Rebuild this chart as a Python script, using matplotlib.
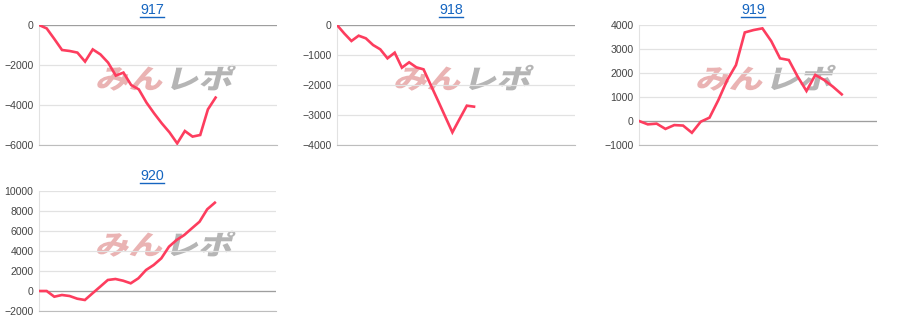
import matplotlib
matplotlib.use("Agg")
import matplotlib.pyplot as plt
from matplotlib.textpath import TextPath
from matplotlib.patches import PathPatch
from matplotlib.font_manager import FontProperties
from matplotlib.transforms import Affine2D
import numpy as np

# machine numbers and their running totals
titles = ["917", "918", "919", "920"]

p917 = [0, -170, -700, -1250, -1300, -1380, -1830, -1220, -1470, -1880, -2530, -2380,
        -3000, -3220, -3880, -4420, -4920, -5370, -5920, -5300, -5580, -5500, -4220, -3630]
p918 = [0, -280, -533, -356, -444, -667, -811, -1111, -922, -1422, -1244, -1411,
        -1478, -2000, -2520, -3050, -3578, -3130, -2689, -2722]
p919 = [0, -140, -110, -330, -170, -190, -490, -30, 140, 870, 1700, 2330,
        3690, 3790, 3860, 3330, 2610, 2540, 1850, 1250, 1920, 1710, 1430, 1110]
p920 = [0, 0, -570, -400, -500, -770, -900, -230, 430, 1100, 1200, 1030,
        770, 1270, 2100, 2600, 3270, 4430, 5100, 5600, 6270, 6930, 8170, 8830]

series = [p917, p918, p919, p920]
y_ranges = [(-6000, 0, 2000), (-4000, 0, 1000), (-1000, 4000, 1000), (-2000, 10000, 2000)]
x_max = [31, 33, 27, 31]

W, H = 900, 332
# axes boxes in pixels: left, top, right, bottom
boxes = [(39, 25, 277, 145), (337, 25, 575, 145), (639, 25, 877, 145), (39, 191, 276, 311)]
title_pos = [(152, 10), (451, 10), (753, 10), (152, 176)]

LINE = "#fd3d5e"
fig = plt.figure(figsize=(W / 100, H / 100), dpi=100)

jp = FontProperties(family="Noto Sans CJK JP", weight=900)

def watermark(ax):
    # "みんレポ" logo, drawn slanted behind the line
    cx, cy = ax.transAxes.transform((0.235, 0.47))
    p1 = TextPath((0, 0), "みん", size=32, prop=jp)
    p2 = TextPath((0, 0), "レポ", size=32, prop=jp)
    w1 = p1.get_extents().width
    base = Affine2D().scale(1.05, 0.85).skew_deg(14, 0)
    t1 = base + Affine2D().translate(cx, cy)
    t2 = base + Affine2D().translate(cx + w1 + 8, cy)
    ax.add_artist(PathPatch(p1, transform=t1, facecolor="#eab3b3", edgecolor="none", zorder=1))
    ax.add_artist(PathPatch(p2, transform=t2, facecolor="#b5b5b5", edgecolor="none", zorder=1))

for i, vals in enumerate(series):
    l, t, r, b = boxes[i]
    ax = fig.add_axes([l / W, (H - b) / H, (r - l) / W, (b - t) / H])
    lo, hi, step = y_ranges[i]
    ax.plot(np.arange(len(vals)), vals, color=LINE, lw=1.9, zorder=3, solid_joinstyle="miter")
    ax.set_xlim(0, x_max[i])
    ax.set_ylim(lo, hi)
    ax.set_yticks(np.arange(lo, hi + 1, step))
    ax.set_xticks([])
    ax.grid(axis="y", color="#e2e2e2", lw=0.9, zorder=0)
    ax.axhline(0, color="#9e9e9e", lw=0.9, zorder=2)
    for s in ["top", "right"]:
        ax.spines[s].set_visible(False)
    ax.spines["left"].set_color("#e2e2e2")
    ax.spines["bottom"].set_color("#bdbdbd")
    ax.tick_params(axis="y", length=0, pad=4, labelsize=7.6, labelcolor="#444444")
    for lab in ax.get_yticklabels():
        lab.set_fontfamily("Liberation Sans")
    watermark(ax)

    tx, ty = title_pos[i]
    fig.text(tx / W, (H - ty) / H, titles[i], ha="center", va="center",
             fontsize=10.3, color="#1565c0", family="Liberation Sans")
    fig.add_artist(plt.Line2D([(tx - 12) / W, (tx + 12) / W], [(H - ty - 6.5) / H] * 2,
                              color="#1565c0", lw=1.0))

fig.savefig("out.png", dpi=100)
